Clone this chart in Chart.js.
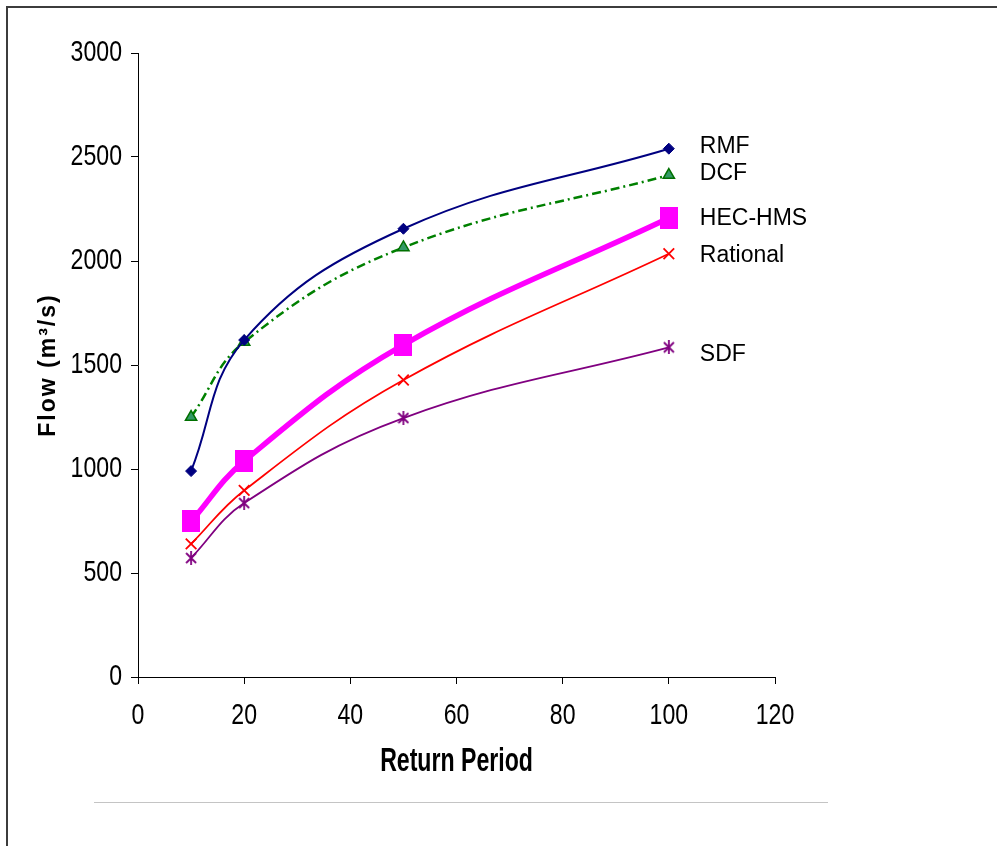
<!DOCTYPE html>
<html>
<head>
<meta charset="utf-8">
<title>Flow vs Return Period</title>
<script src="https://cdn.jsdelivr.net/npm/chart.js@4.4.1/dist/chart.umd.min.js"></script>
<style>
  html, body { margin: 0; padding: 0; background: #fff; }
  #wrap { position: relative; width: 997px; height: 846px; overflow: hidden; }
  #frame { position: absolute; left: 6px; top: 6px; right: -10px; bottom: -10px;
           border-left: 2px solid #3c3c3c; border-top: 2px solid #3c3c3c; }
  #rule { position: absolute; left: 94px; top: 802px; width: 734px; height: 0;
          border-top: 1px solid #c4c4c4; }
  canvas { position: absolute; left: 0; top: 0; }
</style>
</head>
<body>
<div id="wrap">
  <div id="frame"></div>
  <div id="rule"></div>
  <canvas id="flowChart" width="997" height="846"></canvas>
</div>
<script>
// Return periods (years) on the x axis
const returnPeriods = [10, 20, 50, 100];

// Peak flow (m3/s) for each method
const rmf      = [990, 1620, 2155, 2540];
const dcf      = [1250, 1610, 2065, 2413];
const hecHms   = [748, 1038, 1597, 2207];
const rational = [640, 897, 1428, 2035];
const sdf      = [572, 836, 1245, 1585];

const seriesNames = ['RMF', 'DCF', 'HEC-HMS', 'Rational', 'SDF'];

// axis ticks and titles
const xTicks = [0, 20, 40, 60, 80, 100, 120];
const yTicks = [0, 500, 1000, 1500, 2000, 2500, 3000];
const xTitle = 'Return Period';
const yTitle = 'Flow (m³/s)';

const plain = "'Liberation Sans', Arial, sans-serif";

function toPoints(values) {
    return values.map((v, i) => ({ x: returnPeriods[i], y: v }));
}

// little canvases for the markers chart.js has no shape for
function rectMarker(w, h, color) {
    const c = document.createElement('canvas');
    c.width = w; c.height = h;
    const g = c.getContext('2d');
    g.fillStyle = color;
    g.fillRect(0, 0, w, h);
    return c;
}

function asteriskMarker(w, h, color) {
    const c = document.createElement('canvas');
    c.width = w; c.height = h;
    const g = c.getContext('2d');
    g.strokeStyle = color;
    g.lineWidth = 1.8;
    g.beginPath();
    g.moveTo(1, 2); g.lineTo(w - 1, h - 2);
    g.moveTo(w - 1, 2); g.lineTo(1, h - 2);
    g.moveTo(w / 2, 0); g.lineTo(w / 2, h);
    g.stroke();
    return c;
}

// text squeezed horizontally (no narrow font installed)
function squeezed(ctx, text, px, py, align, sx) {
    ctx.save();
    ctx.translate(px, py);
    ctx.scale(sx, 1);
    ctx.textAlign = align;
    ctx.fillText(text, 0, 0);
    ctx.restore();
}

// tick numbers and axis titles, placed with the chart's own scales
const axisText = {
    id: 'axisText',
    afterDraw(chart) {
        const { ctx, chartArea } = chart;
        const xs = chart.scales.x, ys = chart.scales.y;
        ctx.save();
        ctx.fillStyle = '#000';
        ctx.textBaseline = 'middle';

        ctx.font = '30px ' + plain;
        xs.ticks.forEach(t => squeezed(ctx, String(t.value), xs.getPixelForValue(t.value), chartArea.bottom + 39, 'center', 0.77));
        ys.ticks.forEach(t => squeezed(ctx, String(t.value), chartArea.left - 16, ys.getPixelForValue(t.value), 'right', 0.77));

        ctx.font = 'bold 33px ' + plain;
        squeezed(ctx, xTitle, (chartArea.left + chartArea.right) / 2, chartArea.bottom + 85, 'center', 0.7);

        ctx.save();
        ctx.translate(49, (chartArea.top + chartArea.bottom) / 2);
        ctx.rotate(-Math.PI / 2);
        ctx.font = 'bold 23px ' + plain;
        ctx.letterSpacing = '2px';
        ctx.textAlign = 'center';
        ctx.fillText(yTitle, 0, 0);
        ctx.restore();

        ctx.restore();
    }
};

// series name written next to the last point of each line
const labelNudge = [-2, -1, 1, 2, 7];
const endLabels = {
    id: 'endLabels',
    afterDatasetsDraw(chart) {
        const ctx = chart.ctx;
        ctx.save();
        ctx.font = '23px ' + plain;
        ctx.fillStyle = '#000';
        ctx.textBaseline = 'middle';
        ctx.textAlign = 'left';
        chart.data.datasets.forEach((ds, i) => {
            const meta = chart.getDatasetMeta(i);
            const last = meta.data[meta.data.length - 1];
            ctx.fillText(ds.label, last.x + 31, last.y + labelNudge[i]);
        });
        ctx.restore();
    }
};

const axisGrid = { drawOnChartArea: false, drawTicks: true, tickLength: 7, color: '#000' };

const ctx = document.getElementById('flowChart').getContext('2d');
const flowChart = new Chart(ctx, {
    type: 'line',
    data: {
        datasets: [
            {
                label: seriesNames[0],
                data: toPoints(rmf),
                borderColor: '#000080',
                borderWidth: 2,
                pointStyle: 'rectRot',
                pointRadius: 5.5,
                pointBackgroundColor: '#000080',
                pointBorderColor: '#000080',
                pointBorderWidth: 1
            },
            {
                label: seriesNames[1],
                data: toPoints(dcf),
                borderColor: '#008000',
                borderWidth: 2.5,
                borderDash: [9, 4, 2, 4],
                pointStyle: 'triangle',
                pointRadius: 6.5,
                pointBackgroundColor: '#339966',
                pointBorderColor: '#007000',
                pointBorderWidth: 1.5
            },
            {
                label: seriesNames[2],
                data: toPoints(hecHms),
                borderColor: '#ff00ff',
                borderWidth: 5.5,
                pointStyle: rectMarker(18, 22, '#ff00ff'),
                pointRadius: 10
            },
            {
                label: seriesNames[3],
                data: toPoints(rational),
                borderColor: '#ff0000',
                borderWidth: 1.8,
                pointStyle: 'crossRot',
                pointRadius: 7.5,
                pointBorderColor: '#ff0000',
                pointBorderWidth: 1.8
            },
            {
                label: seriesNames[4],
                data: toPoints(sdf),
                borderColor: '#800080',
                borderWidth: 1.8,
                pointStyle: asteriskMarker(12, 14, '#800080'),
                pointRadius: 7
            }
        ]
    },
    options: {
        responsive: false,
        animation: false,
        devicePixelRatio: 1,
        layout: { padding: { left: 0, top: 53, right: 222, bottom: 56 } },
        elements: { line: { tension: 0.4, fill: false } },
        scales: {
            x: {
                type: 'linear',
                min: 0,
                max: 120,
                afterBuildTicks: scale => { scale.ticks = xTicks.map(v => ({ value: v })); },
                afterFit: scale => { scale.height = 113; },
                ticks: { display: false },
                grid: axisGrid,
                border: { color: '#000', width: 1 }
            },
            y: {
                type: 'linear',
                min: 0,
                max: 3000,
                afterBuildTicks: scale => { scale.ticks = yTicks.map(v => ({ value: v })); },
                afterFit: scale => { scale.width = 138; },
                ticks: { display: false },
                grid: axisGrid,
                border: { color: '#000', width: 1 }
            }
        },
        plugins: {
            legend: { display: false },
            tooltip: { enabled: false }
        }
    },
    plugins: [endLabels, axisText]
});
</script>
</body>
</html>
